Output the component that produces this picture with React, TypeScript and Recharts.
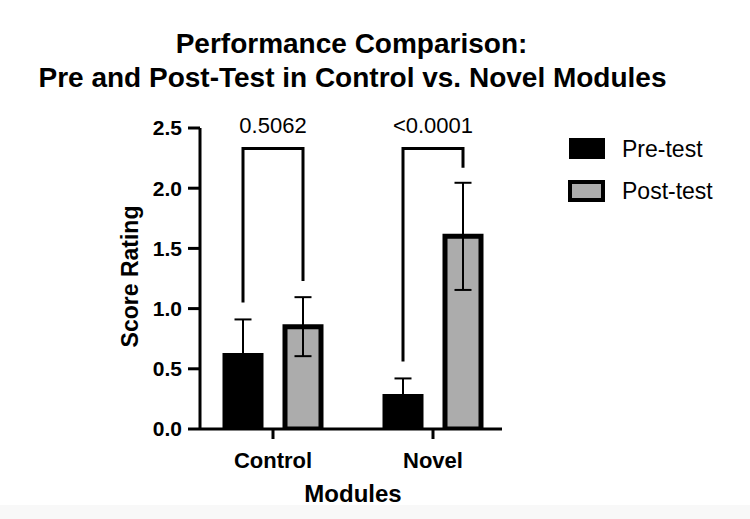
import React from 'react';
import { BarChart, Bar, XAxis, YAxis, ErrorBar } from 'recharts';

const categories = ['Control', 'Novel'];
const seriesNames = ['Pre-test', 'Post-test'];
const preTest = [0.61, 0.27];
const preTestErr = [0.3, 0.15];
const postTest = [0.85, 1.6];
const postTestErr = [0.245, 0.445];
const pValues = ['0.5062', '<0.0001'];
const bracketTop = [2.33, 2.33];
const bracketLeftEnd = [1.05, 0.56];
const bracketRightEnd = [1.23, 2.17];
const yTicks = [0, 0.5, 1.0, 1.5, 2.0, 2.5];

const data = categories.map((c, i) => ({
  module: c,
  pre: preTest[i],
  preErr: preTestErr[i],
  post: postTest[i],
  postErr: postTestErr[i],
}));

const BAR_SIZE = 36;
const BAR_GAP = 24;
const PRE_COLOR = '#000000';
const POST_COLOR = '#acacac';
const FONT = 'Liberation Sans, Arial, Helvetica, sans-serif';

const renderBracket = (props: any) => {
  const x = Number(props.x);
  const y = Number(props.y);
  const width = Number(props.width);
  const height = Number(props.height);
  const value = Number(props.value);
  let index = props.index;
  if (index === undefined || index === null) {
    index = postTest.findIndex((v) => v === value);
  }
  if (!value || !height) return null;
  const ppu = height / value;
  const base = y + height;
  const yOf = (v: number) => base - v * ppu;
  const postCx = x + width / 2;
  const preCx = postCx - (width + BAR_GAP);
  const top = yOf(bracketTop[index]);
  const lEnd = yOf(bracketLeftEnd[index]);
  const rEnd = yOf(bracketRightEnd[index]);
  return (
    <g key={`br-${index}`}>
      <path
        d={`M${preCx},${lEnd} L${preCx},${top} L${postCx},${top} L${postCx},${rEnd}`}
        fill="none"
        stroke="#000"
        strokeWidth={3}
        strokeLinejoin="miter"
      />
      <text
        x={(preCx + postCx) / 2}
        y={top - 15}
        textAnchor="middle"
        fontFamily={FONT}
        fontSize={22}
        fill="#000"
      >
        {pValues[index]}
      </text>
    </g>
  );
};

export default function App() {
  return (
    <div style={{ position: 'absolute', left: 0, top: 0, width: 750, height: 519, background: '#fff', overflow: 'hidden' }}>
      <div style={{ position: 'absolute', left: 0, top: 505, width: 750, height: 14, background: '#f8f8f8' }} />
      <div style={{ position: 'absolute', left: 0, top: 0 }}>
        <BarChart
          width={750}
          height={519}
          data={data}
          margin={{ top: 128, right: 248, bottom: 0, left: 0 }}
          barSize={BAR_SIZE}
          barGap={BAR_GAP}
        >
          <XAxis
            dataKey="module"
            padding={{ left: -7, right: -11 }}
            axisLine={{ stroke: '#000', strokeWidth: 3 }}
            tickLine={{ stroke: '#000', strokeWidth: 3 }}
            tickSize={10}
            tickMargin={13}
            tick={{ fill: '#000', fontSize: 22, fontWeight: 700, fontFamily: FONT }}
            height={90}
          />
          <YAxis
            width={200}
            domain={[0, 2.5]}
            ticks={yTicks}
            interval={0}
            allowDataOverflow
            tickFormatter={(v: number) => v.toFixed(1)}
            axisLine={{ stroke: '#000', strokeWidth: 3 }}
            tickLine={{ stroke: '#000', strokeWidth: 3 }}
            tickSize={12}
            tickMargin={6}
            tick={{ fill: '#000', fontSize: 21, fontWeight: 700, fontFamily: FONT }}
          />
          <Bar dataKey="pre" name={seriesNames[0]} fill={PRE_COLOR} stroke="#000" strokeWidth={5} isAnimationActive={false}>
            <ErrorBar dataKey="preErr" width={8.5} stroke="#000" strokeWidth={2} direction="y" />
          </Bar>
          <Bar
            dataKey="post"
            name={seriesNames[1]}
            fill={POST_COLOR}
            stroke="#000"
            strokeWidth={5}
            isAnimationActive={false}
            label={renderBracket}
          >
            <ErrorBar dataKey="postErr" width={8.5} stroke="#000" strokeWidth={2} direction="y" />
          </Bar>
        </BarChart>
      </div>
      <svg width={750} height={519} style={{ position: 'absolute', left: 0, top: 0, pointerEvents: 'none' }}>
        <text x={351.5} y={53} textAnchor="middle" fontFamily={FONT} fontWeight={700} fontSize={28} fill="#000">
          Performance Comparison:
        </text>
        <text x={352.5} y={87} textAnchor="middle" fontFamily={FONT} fontWeight={700} fontSize={28} fill="#000">
          Pre and Post-Test in Control vs. Novel Modules
        </text>
        <text
          transform="translate(138,276.5) rotate(-90)"
          textAnchor="middle"
          fontFamily={FONT}
          fontWeight={700}
          fontSize={23}
          fill="#000"
        >
          Score Rating
        </text>
        <text x={353} y={502} textAnchor="middle" fontFamily={FONT} fontWeight={700} fontSize={24} fill="#000">
          Modules
        </text>
        <rect x={569} y={138} width={36} height={21} fill={PRE_COLOR} />
        <text x={622} y={157} fontFamily={FONT} fontSize={23} fill="#000">
          {seriesNames[0]}
        </text>
        <rect x={570} y={182} width={33} height={18} fill={POST_COLOR} stroke="#000" strokeWidth={4} />
        <text x={622} y={199} fontFamily={FONT} fontSize={23} fill="#000">
          {seriesNames[1]}
        </text>
      </svg>
    </div>
  );
}
